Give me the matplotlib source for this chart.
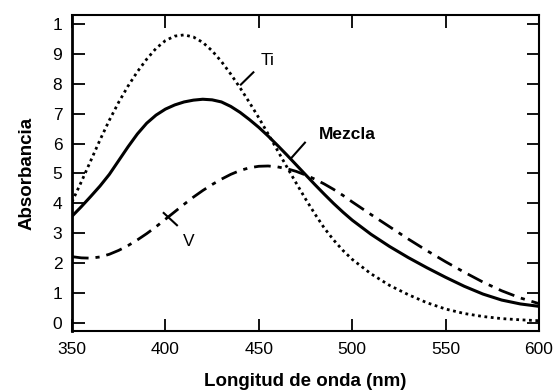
import matplotlib
matplotlib.use("Agg")
import matplotlib.pyplot as plt

plt.rcParams['font.family'] = ['Liberation Sans', 'DejaVu Sans']

# Wavelengths (nm)
wl = [350, 355, 360, 365, 370, 375, 380, 385, 390, 395, 400, 405, 410, 415, 420,
      425, 430, 435, 440, 445, 450, 455, 460, 465, 470, 475, 480, 485, 490, 495,
      500, 510, 520, 530, 540, 550, 560, 570, 580, 590, 600]

ti = [0.405, 0.472, 0.542, 0.612, 0.678, 0.738, 0.792, 0.840, 0.882, 0.918, 0.944, 0.959,
      0.963, 0.956, 0.938, 0.910, 0.874, 0.832, 0.786, 0.737, 0.686, 0.632, 0.577,
      0.522, 0.468, 0.415, 0.365, 0.318, 0.278, 0.243, 0.213, 0.165, 0.126, 0.095,
      0.068, 0.047, 0.032, 0.022, 0.015, 0.011, 0.008]

mezcla = [0.357, 0.389, 0.423, 0.458, 0.497, 0.543, 0.589, 0.632, 0.668, 0.695, 0.715,
          0.729, 0.739, 0.745, 0.748, 0.746, 0.739, 0.724, 0.704, 0.680, 0.654,
          0.625, 0.594, 0.562, 0.529, 0.496, 0.463, 0.431, 0.400, 0.371, 0.344,
          0.297, 0.256, 0.219, 0.185, 0.153, 0.123, 0.097, 0.077, 0.064, 0.056]

v = [0.222, 0.218, 0.217, 0.221, 0.230, 0.243, 0.259, 0.278, 0.299, 0.322, 0.347,
     0.372, 0.397, 0.421, 0.443, 0.463, 0.481, 0.497, 0.510, 0.519, 0.524, 0.525,
     0.522, 0.516, 0.507, 0.495, 0.481, 0.465, 0.447, 0.427, 0.405, 0.363, 0.322,
     0.281, 0.242, 0.205, 0.170, 0.137, 0.108, 0.084, 0.065]

yticks = [0.0, 0.1, 0.2, 0.3, 0.4, 0.5, 0.6, 0.7, 0.8, 0.9, 1.0]
ytick_labels = ["0", "1", "2", "3", "4", "5", "6", "7", "8", "9", "1"]
xticks = [350, 400, 450, 500, 550, 600]
xtick_labels = ["350", "400", "450", "500", "550", "600"]

fig = plt.figure(figsize=(5.58, 3.91), dpi=100)
ax = fig.add_axes([0.129, 0.153, 0.837, 0.809])

ax.plot(wl, ti, color='black', lw=2.0, linestyle=(0, (1, 1.3)))
ax.plot(wl, mezcla, color='black', lw=2.2, linestyle='-')
ax.plot(wl, v, color='black', lw=2.0, linestyle=(0, (6, 2.5, 1.5, 2.5)))

ax.set_xlim(350, 600)
ax.set_ylim(-0.027, 1.03)
ax.set_xticks(xticks)
ax.set_xticklabels(xtick_labels)
ax.set_yticks(yticks)
ax.set_yticklabels(ytick_labels)
ax.tick_params(direction='in', length=9, width=1.3, top=True, right=True,
               labelsize=12.5, colors='black')
ax.tick_params(axis='x', pad=8)
ax.tick_params(axis='y', pad=7)
for s in ax.spines.values():
    s.set_linewidth(1.5)
ax.spines['left'].set_linewidth(2.0)

# annotations
ax.text(454.5, 0.876, "Ti", fontsize=12.5, ha='center', va='center')
ax.plot([447.1, 440.4], [0.838, 0.797], color='black', lw=1.5)
ax.text(497.5, 0.631, "Mezcla", fontsize=12.5, fontweight='bold', ha='center', va='center')
ax.plot([474.7, 467.6], [0.603, 0.553], color='black', lw=1.5)
ax.text(412.5, 0.273, "V", fontsize=12.5, ha='center', va='center')
ax.plot([399.1, 406.2], [0.368, 0.327], color='black', lw=1.5)

ax.set_xlabel("Longitud de onda (nm)", fontsize=13.5, fontweight='bold', labelpad=11)
ax.set_ylabel("Absorbancia", fontsize=13.5, fontweight='bold', labelpad=12)

fig.savefig("out.png", dpi=100)
